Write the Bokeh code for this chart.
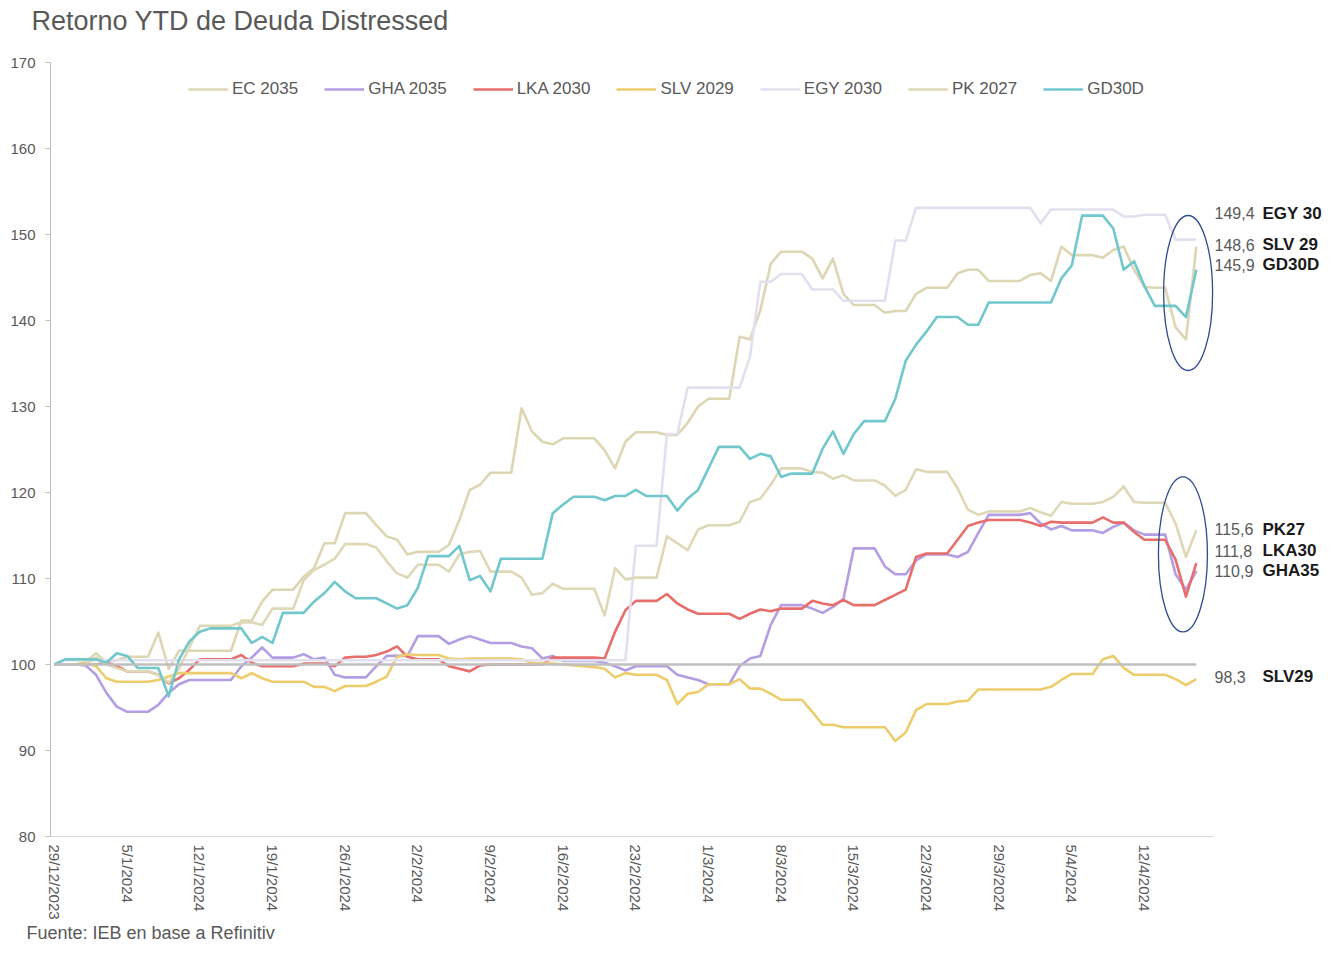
import math
import pandas as pd
from bokeh.plotting import figure
from bokeh.layouts import row, column
from bokeh.models import Range1d, FixedTicker, Legend, LegendItem
from bokeh.core.properties import value
from bokeh.embed import file_html
from bokeh.resources import INLINE

# ---------------- data ----------------
dates = pd.date_range("2023-12-29", "2024-04-17", freq="D")

ec_2035 = [
    100.0, 100.0, 100.0, 100.3, 101.3, 100.2, 100.5,
    100.9, 100.9, 100.9, 103.7, 99.5, 101.6, 101.6,
    101.6, 101.6, 101.6, 101.6, 105.1, 105.1, 107.3,
    108.7, 108.7, 108.7, 110.2, 111.2, 114.1, 114.1,
    117.6, 117.6, 117.6, 116.2, 114.9, 114.5, 112.8,
    113.1, 113.1, 113.1, 113.9, 116.8, 120.3, 120.9,
    122.3, 122.3, 122.3, 129.8, 127.1, 125.9, 125.6,
    126.3, 126.3, 126.3, 126.3, 124.9, 122.8, 125.9,
    127.0, 127.0, 127.0, 126.7, 126.7, 128.1, 130.0,
    130.9, 130.9, 130.9, 138.1, 137.8, 141.2, 146.6,
    148.0, 148.0, 148.0, 147.2, 144.9, 147.2, 143.1,
    141.8, 141.8, 141.8, 140.9, 141.1, 141.1, 143.1,
    143.8, 143.8, 143.8, 145.5, 145.9, 145.9, 144.6,
    144.6, 144.6, 144.6, 145.3, 145.5, 144.6, 148.6,
    147.6, 147.6, 147.6, 147.3, 148.2, 148.6, 145.9,
    143.9, 143.8, 143.8, 139.2, 137.8, 148.6,
]

gha_2035 = [
    100.0, 100.0, 100.0, 99.9, 98.8, 96.7, 95.1,
    94.5, 94.5, 94.5, 95.3, 96.7, 97.7, 98.2,
    98.2, 98.2, 98.2, 98.2, 99.8, 100.8, 102.0,
    100.8, 100.8, 100.8, 101.2, 100.6, 100.8, 98.8,
    98.5, 98.5, 98.5, 99.8, 101.0, 101.0, 101.0,
    103.3, 103.3, 103.3, 102.4, 102.9, 103.3, 102.9,
    102.5, 102.5, 102.5, 102.1, 101.9, 100.7, 101.0,
    100.4, 100.4, 100.4, 100.4, 100.2, 99.8, 99.3,
    99.8, 99.8, 99.8, 99.8, 98.8, 98.5, 98.2,
    97.7, 97.7, 97.7, 99.8, 100.7, 101.0, 104.6,
    106.9, 106.9, 106.9, 106.5, 106.0, 106.7, 107.6,
    113.5, 113.5, 113.5, 111.4, 110.5, 110.5, 112.1,
    112.8, 112.8, 112.8, 112.5, 113.1, 115.3, 117.4,
    117.4, 117.4, 117.4, 117.6, 116.4, 115.7, 116.1,
    115.6, 115.6, 115.6, 115.3, 116.0, 116.5, 115.6,
    115.1, 115.1, 115.1, 110.5, 108.7, 110.9,
]

lka_2030 = [
    100.0, 100.0, 100.0, 100.0, 100.0, 100.2, 99.8,
    99.2, 99.2, 99.2, 98.8, 97.8, 98.4, 99.4,
    100.6, 100.6, 100.6, 100.6, 101.1, 100.2, 99.8,
    99.8, 99.8, 99.8, 100.1, 100.1, 100.1, 99.8,
    100.8, 100.9, 100.9, 101.1, 101.5, 102.1, 100.9,
    100.6, 100.6, 100.6, 99.8, 99.5, 99.2, 99.9,
    100.0, 100.0, 100.0, 100.0, 100.0, 100.0, 100.8,
    100.8, 100.8, 100.8, 100.8, 100.7, 103.8, 106.3,
    107.4, 107.4, 107.4, 108.2, 107.1, 106.4, 105.9,
    105.9, 105.9, 105.9, 105.3, 105.9, 106.4, 106.2,
    106.5, 106.5, 106.5, 107.4, 107.1, 106.9, 107.5,
    106.9, 106.9, 106.9, 107.5, 108.1, 108.7, 112.5,
    112.9, 112.9, 112.9, 114.5, 116.1, 116.5, 116.8,
    116.8, 116.8, 116.8, 116.5, 116.1, 116.6, 116.5,
    116.5, 116.5, 116.5, 117.1, 116.5, 116.5, 115.4,
    114.5, 114.5, 114.5, 112.2, 107.9, 111.8,
]

slv_2029 = [
    100.0, 100.0, 100.0, 100.2, 99.8, 98.4, 98.0,
    98.0, 98.0, 98.0, 98.2, 98.6, 99.0, 99.0,
    99.0, 99.0, 99.0, 99.0, 98.4, 99.0, 98.4,
    98.0, 98.0, 98.0, 98.0, 97.4, 97.4, 96.9,
    97.5, 97.5, 97.5, 98.0, 98.6, 100.9, 101.2,
    101.1, 101.1, 101.1, 100.7, 100.6, 100.7, 100.7,
    100.7, 100.7, 100.7, 100.6, 100.2, 100.1, 100.1,
    100.0, 99.9, 99.8, 99.7, 99.5, 98.5, 99.0,
    98.8, 98.8, 98.8, 98.2, 95.4, 96.6, 96.8,
    97.7, 97.7, 97.7, 98.3, 97.2, 97.2, 96.6,
    95.9, 95.9, 95.9, 94.5, 93.0, 93.0, 92.7,
    92.7, 92.7, 92.7, 92.7, 91.1, 92.1, 94.7,
    95.4, 95.4, 95.4, 95.7, 95.8, 97.1, 97.1,
    97.1, 97.1, 97.1, 97.1, 97.1, 97.4, 98.2,
    98.9, 98.9, 98.9, 100.6, 101.0, 99.6, 98.8,
    98.8, 98.8, 98.8, 98.3, 97.6, 98.3,
]

egy_2030 = [
    100.0, 100.5, 100.5, 100.5, 100.5, 100.5, 100.5,
    100.5, 100.5, 100.5, 100.5, 100.5, 100.5, 100.5,
    100.5, 100.5, 100.5, 100.5, 100.5, 100.5, 100.5,
    100.5, 100.5, 100.5, 100.5, 100.5, 100.5, 100.5,
    100.5, 100.5, 100.5, 100.5, 100.5, 100.5, 100.5,
    100.5, 100.5, 100.5, 100.5, 100.5, 100.5, 100.5,
    100.5, 100.5, 100.5, 100.5, 100.5, 100.5, 100.5,
    100.5, 100.5, 100.5, 100.5, 100.5, 100.5, 100.5,
    113.8, 113.8, 113.8, 126.8, 126.8, 132.2, 132.2,
    132.2, 132.2, 132.2, 132.2, 135.8, 144.5, 144.5,
    145.4, 145.4, 145.4, 143.6, 143.6, 143.6, 142.3,
    142.3, 142.3, 142.3, 142.3, 149.3, 149.3, 153.1,
    153.1, 153.1, 153.1, 153.1, 153.1, 153.1, 153.1,
    153.1, 153.1, 153.1, 153.1, 151.3, 152.9, 152.9,
    152.9, 152.9, 152.9, 152.9, 152.9, 152.1, 152.1,
    152.3, 152.3, 152.3, 149.4, 149.4, 149.4,
]

pk_2027 = [
    100.0, 100.0, 100.0, 100.0, 100.8, 100.0, 99.6,
    99.2, 99.2, 99.2, 98.8, 97.9, 99.5, 102.0,
    104.5, 104.5, 104.5, 104.5, 104.9, 104.9, 104.6,
    106.5, 106.5, 106.5, 109.8, 111.0, 111.6, 112.3,
    114.0, 114.0, 114.0, 113.6, 112.0, 110.6, 110.1,
    111.6, 111.6, 111.6, 110.8, 112.8, 113.1, 113.2,
    110.8, 110.8, 110.8, 110.1, 108.1, 108.3, 109.4,
    108.8, 108.8, 108.8, 108.8, 105.7, 111.2, 109.9,
    110.1, 110.1, 110.1, 114.9, 114.1, 113.3, 115.7,
    116.2, 116.2, 116.2, 116.6, 118.9, 119.3, 120.9,
    122.8, 122.8, 122.8, 122.4, 122.3, 121.6, 122.0,
    121.4, 121.4, 121.4, 120.8, 119.6, 120.3, 122.7,
    122.4, 122.4, 122.4, 120.5, 118.0, 117.4, 117.8,
    117.8, 117.8, 117.8, 118.2, 117.7, 117.3, 118.9,
    118.7, 118.7, 118.7, 118.9, 119.5, 120.7, 118.9,
    118.8, 118.8, 118.8, 116.4, 112.5, 115.6,
]

gd30d = [
    100.0, 100.6, 100.6, 100.6, 100.6, 100.2, 101.3,
    101.0, 99.6, 99.6, 99.6, 96.3, 100.6, 102.7,
    103.8, 104.2, 104.2, 104.2, 104.2, 102.5, 103.2,
    102.5, 106.0, 106.0, 106.0, 107.3, 108.3, 109.6,
    108.5, 107.7, 107.7, 107.7, 107.1, 106.5, 106.9,
    108.9, 112.6, 112.6, 112.6, 113.8, 109.8, 110.3,
    108.5, 112.3, 112.3, 112.3, 112.3, 112.3, 117.6,
    118.6, 119.5, 119.5, 119.5, 119.1, 119.6, 119.6,
    120.3, 119.6, 119.6, 119.6, 117.9, 119.3, 120.3,
    122.8, 125.3, 125.3, 125.3, 123.9, 124.5, 124.2,
    121.8, 122.2, 122.2, 122.2, 125.1, 127.1, 124.5,
    126.8, 128.3, 128.3, 128.3, 130.9, 135.3, 137.2,
    138.7, 140.4, 140.4, 140.4, 139.5, 139.5, 142.1,
    142.1, 142.1, 142.1, 142.1, 142.1, 142.1, 144.9,
    146.4, 152.2, 152.2, 152.2, 150.7, 145.9, 146.9,
    144.0, 141.7, 141.7, 141.7, 140.4, 145.9,
]

series_names = ["EC 2035", "GHA 2035", "LKA 2030", "SLV 2029", "EGY 2030", "PK 2027", "GD30D"]
series_values = [ec_2035, gha_2035, lka_2030, slv_2029, egy_2030, pk_2027, gd30d]
series_colors = ["#DDD6B3", "#B39DE3", "#E86E6C", "#EDCC6C", "#E2E0EE", "#DFD8B6", "#70C7CC"]

baseline = [100, 100]

y_ticks = [80, 90, 100, 110, 120, 130, 140, 150, 160, 170]
x_tick_labels = ["29/12/2023", "5/1/2024", "12/1/2024", "19/1/2024", "26/1/2024",
                 "2/2/2024", "9/2/2024", "16/2/2024", "23/2/2024", "1/3/2024",
                 "8/3/2024", "15/3/2024", "22/3/2024", "29/3/2024", "5/4/2024",
                 "12/4/2024"]
tick_dates = pd.to_datetime(["2023-12-29", "2024-01-05", "2024-01-12", "2024-01-19",
                             "2024-01-26", "2024-02-02", "2024-02-09", "2024-02-16",
                             "2024-02-23", "2024-03-01", "2024-03-08", "2024-03-15",
                             "2024-03-22", "2024-03-29", "2024-04-05", "2024-04-12"])

end_values = ["149,4", "148,6", "145,9", "115,6", "111,8", "110,9", "98,3"]
end_names = ["EGY 30", "SLV 29", "GD30D", "PK27", "LKA30", "GHA35", "SLV29"]
end_label_y = [152.5, 148.8, 146.5, 115.7, 113.2, 110.9, 98.6]

highlight_x = [pd.Timestamp("2024-04-16 05:00"), pd.Timestamp("2024-04-15 17:00")]
highlight_y = [143.2, 112.8]

title_text = "Retorno YTD de Deuda Distressed"
source_text = "Fuente: IEB en base a Refinitiv"

# ---------------- layout constants ----------------
TOTAL_W, TOTAL_H = 1323, 942
MAIN_W = 1214
TITLE_H = 40
FRAME_TOP, FRAME_BOTTOM = 62, 836
BOTTOM = 87
MAIN_H = (FRAME_BOTTOM - TITLE_H) + BOTTOM
FOOT_H = TOTAL_H - TITLE_H - MAIN_H
TOP = FRAME_TOP - TITLE_H
LEFT = 50


def strip(width, height):
    f = figure(width=width, height=height, x_range=Range1d(0, width), y_range=Range1d(0, height),
               x_axis_location=None, y_axis_location=None, output_backend="svg",
               toolbar_location=None, min_border=0)
    f.outline_line_color = None
    f.grid.visible = False
    f.background_fill_color = "white"
    f.border_fill_color = "white"
    return f


# title strip
top = strip(TOTAL_W, TITLE_H)
top.text(x=[31], y=[TITLE_H - 20], text=[title_text], text_font=value("Liberation Sans"),
         text_font_size="27px", text_color="#595959", text_baseline="middle",
         text_align="left")

# main chart
DAY = pd.Timedelta(days=1)
x_start = dates[0] - 0.385 * DAY
x_end = dates[0] + 111.75 * DAY

fig = figure(width=MAIN_W, height=MAIN_H, x_axis_type="datetime",
             x_range=Range1d(x_start, x_end), y_range=Range1d(80, 170),
             output_backend="svg", toolbar_location=None,
             min_border_left=LEFT, min_border_right=0,
             min_border_top=TOP, min_border_bottom=BOTTOM)
fig.outline_line_color = None
fig.grid.visible = False
fig.background_fill_color = "white"
fig.border_fill_color = "white"

fig.yaxis.ticker = FixedTicker(ticks=y_ticks)
fig.yaxis.axis_line_color = "#BFBFBF"
fig.yaxis.major_tick_line_color = "#BFBFBF"
fig.yaxis.major_tick_in = 0
fig.yaxis.major_tick_out = 5
fig.yaxis.minor_tick_line_color = None
fig.yaxis.major_label_standoff = 10
fig.yaxis.major_label_text_font = "Liberation Sans"
fig.yaxis.major_label_text_font_size = "15px"
fig.yaxis.major_label_text_color = "#595959"

tick_ms = [int(t.value // 10**6) for t in tick_dates]
fig.xaxis.ticker = FixedTicker(ticks=tick_ms)
fig.xaxis.major_label_overrides = {ms: lbl for ms, lbl in zip(tick_ms, x_tick_labels)}
fig.xaxis.axis_line_color = "#D9D9D9"
fig.xaxis.major_tick_line_color = None
fig.xaxis.major_tick_in = 0
fig.xaxis.major_tick_out = 0
fig.xaxis.minor_tick_line_color = None
fig.xaxis.major_label_orientation = -math.pi / 2
fig.xaxis.major_label_standoff = 8
fig.xaxis.major_label_text_font = "Liberation Sans"
fig.xaxis.major_label_text_font_size = "15px"
fig.xaxis.major_label_text_color = "#595959"

items = []
for name, vals, col in zip(series_names, series_values, series_colors):
    r = fig.line(dates, vals, line_color=col, line_width=2.6, line_join="round")
    items.append(LegendItem(label=name, renderers=[r]))

fig.line([dates[0], dates[-1]], baseline, line_color="#BFBFBF", line_width=2.6)

fig.ellipse(x=highlight_x, y=highlight_y, width=49, height=155,
            width_units="screen", height_units="screen",
            fill_color=None, line_color="#2F4B8F", line_width=1.3)

frame_h = FRAME_BOTTOM - FRAME_TOP
legend = Legend(items=items, location=(138, frame_h - 37), orientation="horizontal",
                glyph_width=40, glyph_height=18, label_standoff=4, spacing=26,
                padding=0, margin=0, border_line_color=None,
                background_fill_alpha=0,
                label_text_font="Liberation Sans", label_text_font_size="17px",
                label_text_color="#595959")
fig.add_layout(legend)

# side panel with end labels
side_w = TOTAL_W - MAIN_W
side = figure(width=side_w, height=MAIN_H, x_range=Range1d(0, side_w),
              y_range=fig.y_range, x_axis_location=None, y_axis_location=None,
              output_backend="svg", toolbar_location=None,
              min_border_left=0, min_border_right=0,
              min_border_top=TOP, min_border_bottom=BOTTOM)
side.outline_line_color = None
side.grid.visible = False
side.background_fill_color = "white"
side.border_fill_color = "white"

side.text(x=[0] * len(end_values), y=end_label_y, text=end_values,
          text_font=value("Liberation Sans"), text_font_size="16px",
          text_color="#595959", text_baseline="middle", text_align="left")
side.text(x=[48] * len(end_names), y=end_label_y, text=end_names,
          text_font=value("Liberation Sans"), text_font_size="17px",
          text_font_style="bold", text_color="#1A1A1A",
          text_baseline="middle", text_align="left")

# source strip
foot = strip(TOTAL_W, FOOT_H)
foot.text(x=[26], y=[FOOT_H / 2], text=[source_text], text_font=value("Liberation Sans"),
          text_font_size="18px", text_color="#595959", text_baseline="middle",
          text_align="left")

p = column(top, row(fig, side, spacing=0), foot, spacing=0)

open("out.html", "w").write(file_html(p, INLINE))
